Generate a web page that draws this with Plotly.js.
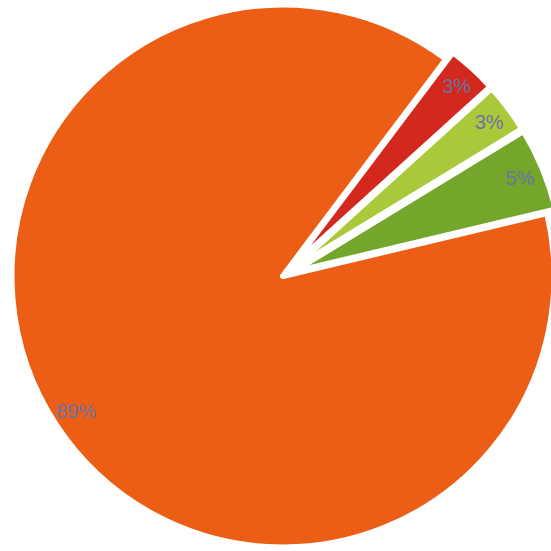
<!DOCTYPE html>
<html>
<head>
<meta charset="utf-8">
<script src="https://cdn.plot.ly/plotly-3.0.1.min.js"></script>
<style>
  html, body { margin: 0; padding: 0; width: 551px; height: 551px; overflow: hidden; background: #ffffff; }
  #chart { position: absolute; left: 2px; top: -5px; width: 562px; height: 562px; }
</style>
</head>
<body>
<div id="chart"></div>
<script>
// Data
const sliceLabels = ["Red", "Light green", "Green", "Orange"];
const sliceValues = [3, 3, 5, 89];
const sliceColors = ["#d3281d", "#aac93a", "#74a62b", "#ec5d16"];
const slicePull = [0.035, 0.035, 0.035, 0];

const common = {
  type: "pie",
  labels: sliceLabels,
  values: sliceValues,
  sort: false,
  direction: "clockwise",
  rotation: 37,
  pull: slicePull,
  showlegend: false
};

// Filled slices
const slices = Object.assign({}, common, {
  marker: { colors: sliceColors, line: { color: "#ffffff", width: 6 } },
  textinfo: "none",
  hoverinfo: "label+percent"
});

// Percentage labels, placed near the rim (transparent ring carrying the text)
const labelsRing = Object.assign({}, common, {
  hole: 0.82,
  marker: { colors: sliceValues.map(() => "rgba(0,0,0,0)"), line: { width: 0 } },
  texttemplate: "%{percent:.0%}",
  textposition: "inside",
  insidetextorientation: "horizontal",
  textfont: { family: "Liberation Sans, Arial, sans-serif", size: 20, color: "#6c72a2" },
  hoverinfo: "skip"
});

const layout = {
  width: 562,
  height: 562,
  margin: { l: 0, r: 0, t: 0, b: 0 },
  paper_bgcolor: "rgba(0,0,0,0)",
  plot_bgcolor: "rgba(0,0,0,0)",
  showlegend: false
};

Plotly.newPlot("chart", [slices, labelsRing], layout, { displayModeBar: false, staticPlot: true });
</script>
</body>
</html>
